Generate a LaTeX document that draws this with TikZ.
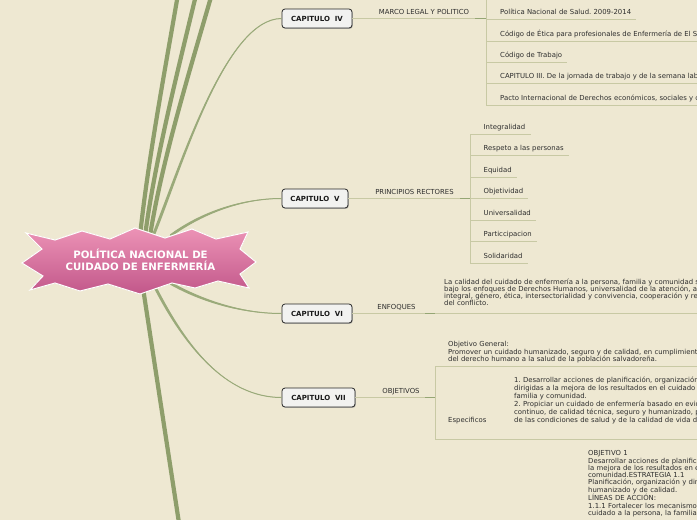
\documentclass[tikz,border=0pt]{standalone}
\usepackage{fontspec}
\setmainfont{DejaVu Sans}
\usetikzlibrary{shadows,calc}
\frenchspacing
\definecolor{bg}{HTML}{EEE8D2}
\definecolor{branch}{HTML}{8E9E6B}
\definecolor{conn}{HTML}{9AAA7A}
\definecolor{thin}{HTML}{C8C9A4}
\definecolor{junc}{HTML}{95A674}
\definecolor{txt}{HTML}{2E2E2E}
\definecolor{pinkT}{HTML}{EC93B6}
\definecolor{pinkB}{HTML}{C2578A}
\definecolor{boxfill}{HTML}{F2F2F0}
\tikzset{
 capbox/.style={draw=black!85, fill=boxfill, rounded corners=3pt, line width=0.8pt,
   font=\fontsize{7}{8}\selectfont\bfseries, text=black!90, minimum height=19pt, inner sep=0pt,
   drop shadow={shadow xshift=0.8pt, shadow yshift=-0.9pt, fill=black!40, opacity=0.6}},
 lbl/.style={font=\fontsize{6.9}{7.5}\selectfont, text=txt, inner sep=0pt, anchor=base},
 item/.style={font=\fontsize{6.9}{7.5}\selectfont, text=txt, inner sep=0pt, anchor=base west},
 para/.style={font=\fontsize{6.9}{#1}\selectfont, text=txt, inner sep=0pt, anchor=base west, align=left, text width=400pt},
 thinline/.style={draw=thin, line width=0.9pt},
 juncline/.style={draw=junc, line width=1.7pt},
 trunk/.style={draw=branch, line width=4.2pt},
 connline/.style={draw=conn, line width=1pt},
 connfill/.style={fill=conn},
}
\begin{document}
\begin{tikzpicture}[x=1pt,y=-1pt]
\useasboundingbox (0,0) rectangle (697,520);
\fill[bg] (0,0) rectangle (697,520);
\clip (0,0) rectangle (697,520);

% chapter nodes
\node[capbox, minimum width=70pt] (c4) at (317,18.5) {CAPITULO\ \ IV};
\node[capbox, minimum width=66pt] (c5) at (315,198.5) {CAPITULO\ \ V};
\node[capbox, minimum width=70pt] (c6) at (317,313.5) {CAPITULO\ \ VI};
\node[capbox, minimum width=73pt] (c7) at (318.5,397.5) {CAPITULO\ \ VII};

% trunk lines
\coordinate (r1) at (140,236);
\coordinate (r2) at (145,236);
\coordinate (r3) at (150,236);
\coordinate (r4) at (143,288);
\coordinate (t1) at (177.5,-3);
\coordinate (t2) at (195.5,-3);
\coordinate (t3) at (211,-3);
\coordinate (t4) at (179,523);
\draw[trunk] (r1) .. controls (148,160) and (165,70) .. (t1);
\draw[trunk] (r2) .. controls (155,160) and (178,70) .. (t2);
\draw[trunk] (r3) .. controls (162,160) and (190,70) .. (t3);
\draw[trunk] (r4) -- (t4);

% tapered connectors
\coordinate (s4) at (153,236);
\coordinate (s5) at (170,236);
\coordinate (s6) at (170,283);
\coordinate (s7) at (156,289);
\fill[connfill] ($(s4)+(-1.6,0)$) .. controls (178.4,170) and (225,18) .. (c4.west)
  .. controls (225,19.2) and (181.6,170) .. ($(s4)+(1.6,0)$) -- cycle;
\draw[connline] (s4) .. controls (180,170) and (225,18.5) .. (c4.west);
\fill[connfill] ($(s5)+(0,-1.6)$) .. controls (200,212.5) and (240,198) .. (c5.west)
  .. controls (240,199) and (200,215.5) .. ($(s5)+(0,1.6)$) -- cycle;
\draw[connline] (s5) .. controls (200,214) and (240,198.5) .. (c5.west);
\fill[connfill] ($(s6)+(0,-1.6)$) .. controls (200,298.5) and (240,313) .. (c6.west)
  .. controls (240,314) and (200,301.5) .. ($(s6)+(0,1.6)$) -- cycle;
\draw[connline] (s6) .. controls (200,300) and (240,313.5) .. (c6.west);
\fill[connfill] ($(s7)+(-1.6,0)$) .. controls (183.4,345) and (225,397) .. (c7.west)
  .. controls (225,398) and (186.6,345) .. ($(s7)+(1.6,0)$) -- cycle;
\draw[connline] (s7) .. controls (185,345) and (225,397.5) .. (c7.west);

% central star
\filldraw[draw=white, line width=1pt, top color=pinkT, bottom color=pinkB, line join=miter]
 (22,263) -- (42,249) -- (26,233) -- (55,240) -- (82,231) -- (110,239) -- (135,228)
 -- (165,238) -- (192,229) -- (216,239) -- (248,232) -- (240,249) -- (256,262)
 -- (240,274) -- (249,288) -- (218,281) -- (195,288) -- (172,283) -- (140,294)
 -- (108,284) -- (80,291) -- (55,283) -- (30,290) -- (43,276) -- cycle;
\node[font=\fontsize{10.2}{12.3}\selectfont\bfseries, text=white, align=center, inner sep=0pt] (root) at (140.5,260) {POLÍTICA NACIONAL DE\\CUIDADO DE ENFERMERÍA};

% ---------- CAPITULO IV ----------
\node[lbl] (l4) at (424,14.5) {MARCO LEGAL Y POLITICO};
\coordinate (j4a) at (475,18.5);
\coordinate (j4b) at (486,18.5);
\coordinate (b4t) at (486,-3);
\coordinate (b4b) at (486,105);
\draw[thinline] (c4.east) -- (j4b);
\draw[juncline] (j4a) -- (j4b);
\draw[thinline] (b4t) -- (b4b);
\node[item] (i41) at (500,14.5) {Política Nacional de Salud. 2009-2014};
\node[item] (i42) at (500,36) {Código de Ética para profesionales de Enfermería de El Salvador};
\node[item] (i43) at (500,57.3) {Código de Trabajo};
\node[item] (i44) at (500,78.7) {CAPITULO III. De la jornada de trabajo y de la semana laboral};
\node[item] (i45) at (500,100) {Pacto Internacional de Derechos económicos, sociales y culturales};
\foreach \n in {i41,i42,i43,i44,i45}{
  \draw[thinline] ($(\n.base west)+(-14,5)$) -- ($(\n.base east)+(5,5)$);
}

% ---------- CAPITULO V ----------
\node[lbl] (l5) at (414.5,194) {PRINCIPIOS RECTORES};
\coordinate (j5a) at (460,198.5);
\coordinate (j5b) at (470,198.5);
\coordinate (b5t) at (470,134);
\coordinate (b5b) at (470,263);
\draw[thinline] (c5.east) -- (j5b);
\draw[juncline] (j5a) -- (j5b);
\draw[thinline] (b5t) -- (b5b);
\node[item] (i51) at (483.5,129.5) {Integralidad};
\node[item] (i52) at (483.5,150.5) {Respeto a las personas};
\node[item] (i53) at (483.5,172.5) {Equidad};
\node[item] (i54) at (483.5,193.5) {Objetividad};
\node[item] (i55) at (483.5,215.5) {Universalidad};
\node[item] (i56) at (483.5,236.5) {Particcipacion};
\node[item] (i57) at (483.5,258.5) {Solidaridad};
\foreach \n in {i51,i52,i53,i54,i55,i56,i57}{
  \draw[thinline] ($(\n.base west)+(-13.5,4.6)$) -- ($(\n.base east)+(5,4.6)$);
}

% ---------- CAPITULO VI ----------
\node[lbl] (l6) at (396.5,309.5) {ENFOQUES};
\coordinate (j6a) at (425,313.5);
\coordinate (j6b) at (435,313.5);
\coordinate (e6) at (700,313.5);
\draw[thinline] (c6.east) -- (e6);
\draw[juncline] (j6a) -- (j6b);
\node[para=7.1] (p6) at (444,284.3) {La calidad del cuidado de enfermería a la persona, familia y comunidad se\\
bajo los enfoques de Derechos Humanos, universalidad de la atención, atención\\
integral, género, ética, intersectorialidad y convivencia, cooperación y resolución\\
del conflicto.};

% ---------- CAPITULO VII ----------
\node[lbl] (l7) at (401,393.7) {OBJETIVOS};
\coordinate (j7a) at (425,397.5);
\coordinate (j7b) at (435,397.5);
\coordinate (b7t) at (435,366);
\coordinate (b7b) at (435,439);
\coordinate (e7t) at (700,366);
\coordinate (e7b) at (700,439);
\draw[thinline] (c7.east) -- (j7b);
\draw[juncline] (j7a) -- (j7b);
\draw[thinline] (e7t) -- (b7t) -- (b7b) -- (e7b);
\node[para=7.6] (p7a) at (448,346.5) {Objetivo General:\\
Promover un cuidado humanizado, seguro y de calidad, en cumplimiento\\
del derecho humano a la salud de la población salvadoreña.};
\node[item] (i7b) at (448,422) {Especificos};
\node[para=7.9] (p7b) at (514,382.5) {1. Desarrollar acciones de planificación, organización\\
dirigidas a la mejora de los resultados en el cuidado a la\\
familia y comunidad.\\
2. Propiciar un cuidado de enfermería basado en evidencia\\
continuo, de calidad técnica, seguro y humanizado, para\\
de las condiciones de salud y de la calidad de vida de};

% ---------- bottom block ----------
\node[para=7.25] (p8) at (588,455.8) {OBJETIVO 1\\
Desarrollar acciones de planificación\\
la mejora de los resultados en el\\
comunidad.ESTRATEGIA 1.1\\
Planificación, organización y dirección\\
humanizado y de calidad.\\
LÍNEAS DE ACCIÓN:\\
1.1.1 Fortalecer los mecanismos\\
cuidado a la persona, la familia};
\end{tikzpicture}
\end{document}
